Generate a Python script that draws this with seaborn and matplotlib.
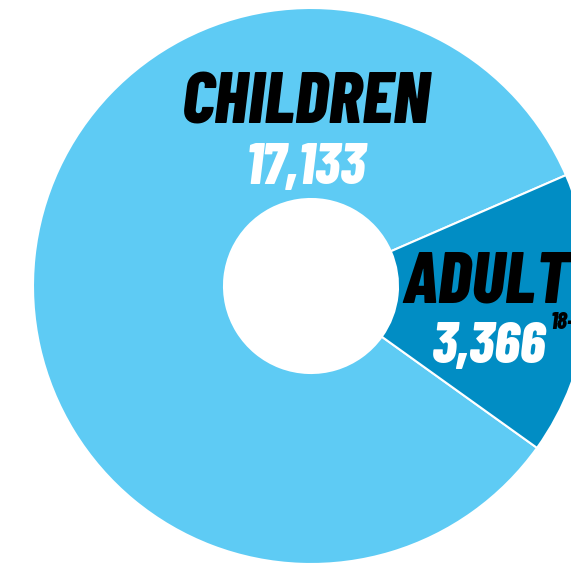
import matplotlib.pyplot as plt
import seaborn as sns

# data
groups = ['CHILDREN', 'ADULTS']
counts = [17133, 3366]
adult_note = '18-64'

sns.set_theme(style='white')
plt.rcParams['font.family'] = ['Barlow Condensed', 'DejaVu Sans']

H = 567
light_blue = '#5ECBF4'
dark_blue = '#018DC4'

fig = plt.figure(figsize=(5.71, 5.67), dpi=100)
ax = fig.add_axes([0, 0, 1, 1])

# donut, in pixel coordinates, partly off the right edge
ax.pie(counts, colors=[light_blue, dark_blue], startangle=23.5,
       center=(311, H - 286), radius=278, frame=True,
       wedgeprops=dict(width=191, edgecolor='white', linewidth=1.5))
ax.set_xlim(0, 571)
ax.set_ylim(0, H)
ax.set_aspect('equal')
ax.axis('off')

font = dict(family=['Barlow Condensed', 'DejaVu Sans'], fontweight=800,
            fontstyle='italic', va='baseline')

ax.text(306, H - 123, groups[0], fontsize=52, color='black', ha='center', **font)
ax.text(306, H - 184, f'{counts[0]:,}', fontsize=42, color='white', ha='center', **font)
ax.text(403, H - 304, groups[1], fontsize=52, color='black', ha='left', **font)
ax.text(489, H - 363, f'{counts[1]:,}', fontsize=42, color='white', ha='center', **font)
ax.text(551, H - 329, adult_note, fontsize=17, color='black', ha='left', **font)

fig.savefig('out.png', dpi=100)
